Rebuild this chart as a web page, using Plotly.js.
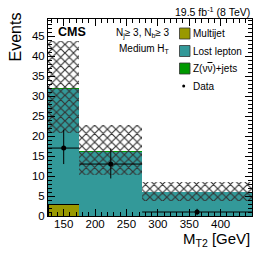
<!DOCTYPE html>
<html><head><meta charset="utf-8">
<script src="https://cdn.plot.ly/plotly-3.0.1.min.js"></script>
<style>html,body{margin:0;padding:0;background:#fff}</style>
</head><body><div id="c" style="width:266px;height:255px"></div>
<script>
// Bin definitions (M_T2 in GeV)
const binCenters = [150, 225, 362.5];
const binWidths = [50, 100, 175];
// Stacked background predictions
const multijet = [2.9, 0, 0];
const lostLepton = [28.8, 16.0, 6.0];
const zinv = [0.3, 0.2, 0.1];
// Total uncertainty band (low / high)
const uncLow = [20.8, 10.2, 3.8];
const uncHigh = [43.7, 22.8, 8.6];
// Observed data
const dataY = [17, 13, 1];
const dataErrUp = [4.6, 3.9, 0.8];
const dataErrDown = [4.0, 3.6, 0.8];
// Ticks
const xTickVals = [150, 200, 250, 300, 350, 400, 450];
const xTickText = ['150', '200', '250', '300', '350', '400', '450\u2007\u2007\u2007'];
// Legend
const legendNames = ['Multijet', 'Lost lepton', 'Z(ν<span style="text-decoration:overline">ν</span>)+jets', 'Data'];
const colors = {multijet: '#999900', lostLepton: '#339999', zinv: '#009900'};

const halfW = binWidths.map(w => w / 2);
const font = 'Liberation Sans, Arial, sans-serif';

const traces = [
  {type: 'bar', x: binCenters, y: multijet, width: binWidths, name: 'Multijet',
   marker: {color: colors.multijet, line: {color: '#000', width: 1}}, showlegend: false},
  {type: 'bar', x: binCenters, y: lostLepton, width: binWidths, name: 'Lost lepton',
   marker: {color: colors.lostLepton, line: {width: 0}}, showlegend: false},
  {type: 'bar', x: binCenters, y: zinv, width: binWidths, name: 'Z',
   marker: {color: colors.zinv, line: {width: 0}}, showlegend: false},
  {type: 'bar', x: binCenters, y: uncHigh.map((h, i) => h - uncLow[i]), base: uncLow, width: binWidths,
   marker: {color: 'rgba(0,0,0,0)', line: {width: 0},
            pattern: {shape: 'x', fgcolor: '#333', bgcolor: 'rgba(0,0,0,0)', size: 6, solidity: 0.35}},
   showlegend: false, hoverinfo: 'skip'},
  {type: 'scatter', mode: 'markers', x: binCenters, y: dataY, name: 'Data',
   marker: {color: '#000', size: 5},
   error_x: {type: 'data', array: halfW, visible: true, color: '#000', thickness: 1, width: 0},
   error_y: {type: 'data', symmetric: false, array: dataErrUp, arrayminus: dataErrDown, visible: true, color: '#000', thickness: 1, width: 0},
   showlegend: false}
];

const px = p => (p - 48) / 204;
const py = p => (216 - p) / 197;

const rows = [33.5, 51, 68.5, 86];
const swCols = [colors.multijet, colors.lostLepton, colors.zinv];
const shapes = [];
swCols.forEach((c, i) => {
  shapes.push({type: 'rect', xref: 'paper', yref: 'paper',
    x0: px(179.5), x1: px(190), y0: py(rows[i] + 5.5), y1: py(rows[i] - 5.5),
    fillcolor: c, line: {color: '#333', width: 0.8}});
});
shapes.push({type: 'circle', xref: 'paper', yref: 'paper',
  x0: px(182.2), x1: px(185.2), y0: py(rows[3] + 1.5), y1: py(rows[3] - 1.5),
  fillcolor: '#000', line: {color: '#000', width: 0}});

const annotations = [
  {text: '19.5 fb<sup>-1</sup> (8 TeV)', x: 1, y: py(11.7), xanchor: 'right', yanchor: 'middle', font: {size: 10.5}},
  {text: '<b>CMS</b>', x: px(56), y: py(32.3), xanchor: 'left', yanchor: 'middle', font: {size: 12.5}},
  {text: 'N<sub>j</sub>≥ 3, N<sub>b</sub>≥ 3', x: px(172), y: py(33.5), xanchor: 'right', yanchor: 'middle', font: {size: 10}},
  {text: 'Medium H<sub>T</sub>', x: px(172), y: py(49.5), xanchor: 'right', yanchor: 'middle', font: {size: 10}},
  {text: 'Events', x: px(14.5), y: py(37), xanchor: 'center', yanchor: 'middle', textangle: -90, font: {size: 16}},
  {text: 'M<sub>T2</sub> [GeV]', x: 1, y: py(239.5), xanchor: 'right', yanchor: 'middle', font: {size: 15}}
];
legendNames.forEach((t, i) => {
  annotations.push({text: t, x: px(190.5), y: py(rows[i]), xanchor: 'left', yanchor: 'middle', font: {size: 10}});
});
annotations.forEach(a => { a.xref = 'paper'; a.yref = 'paper'; a.showarrow = false; a.font.color = '#000'; a.font.family = font; });

const layout = {
  width: 266, height: 255,
  margin: {l: 48, r: 14, t: 19, b: 39, pad: 0},
  barmode: 'stack', bargap: 0,
  paper_bgcolor: '#fff', plot_bgcolor: '#fff',
  font: {family: font, size: 12, color: '#000'},
  showlegend: false,
  xaxis: {range: [125, 450], tickmode: 'array', tickvals: xTickVals, ticktext: xTickText,
    ticks: 'inside', ticklen: 7, tickwidth: 1, tickcolor: '#000', ticklabelstandoff: -3,
    showline: true, linecolor: '#000', linewidth: 1, mirror: 'ticks', showgrid: false, zeroline: false,
    tickfont: {size: 11.5},
    minor: {tickmode: 'linear', tick0: 0, dtick: 10, ticks: 'inside', ticklen: 4, tickcolor: '#000', showgrid: false}},
  yaxis: {range: [0, 49.3], dtick: 5, tick0: 0,
    ticks: 'inside', ticklen: 7, tickwidth: 1, tickcolor: '#000',
    showline: true, linecolor: '#000', linewidth: 1, mirror: 'ticks', showgrid: false, zeroline: false,
    tickfont: {size: 11.5},
    minor: {dtick: 1, ticks: 'inside', ticklen: 4, tickcolor: '#000', showgrid: false}},
  shapes: shapes,
  annotations: annotations
};

Plotly.newPlot('c', traces, layout, {displayModeBar: false, staticPlot: true});
</script></body></html>
